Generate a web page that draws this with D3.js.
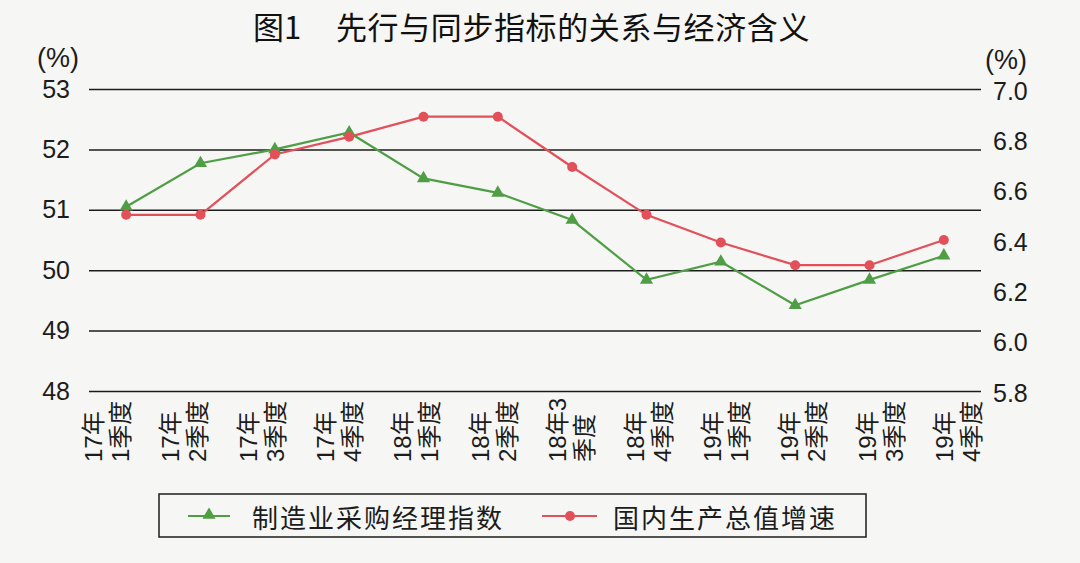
<!DOCTYPE html>
<html>
<head>
<meta charset="utf-8">
<script src="https://cdn.jsdelivr.net/npm/d3@7"></script>
<style>
  body { margin: 0; background: #f6f6f4; }
  svg { display: block; font-family: "Liberation Sans", "Noto Sans CJK SC", sans-serif; }
</style>
</head>
<body>
<div class="chart"></div>
<script>
// quarters on the x axis
const quarters = ["17Q1", "17Q2", "17Q3", "17Q4", "18Q1", "18Q2", "18Q3", "18Q4", "19Q1", "19Q2", "19Q3", "19Q4"];
const quarterLabels = [
  ["17年", "1季度"], ["17年", "2季度"], ["17年", "3季度"], ["17年", "4季度"],
  ["18年", "1季度"], ["18年", "2季度"], ["18年3", "季度"], ["18年", "4季度"],
  ["19年", "1季度"], ["19年", "2季度"], ["19年", "3季度"], ["19年", "4季度"]
];
// 制造业采购经理指数 (left axis)
const pmi = [51.05, 51.77, 52.0, 52.28, 51.52, 51.28, 50.83, 49.84, 50.14, 49.42, 49.84, 50.24];
// 国内生产总值增速 (right axis)
const gdp = [6.5, 6.5, 6.74, 6.81, 6.89, 6.89, 6.69, 6.5, 6.39, 6.3, 6.3, 6.4];
const leftTicks = [48, 49, 50, 51, 52, 53];
const rightTicks = [5.8, 6.0, 6.2, 6.4, 6.6, 6.8, 7.0];

const W = 1080, H = 563;
const margin = { top: 89, right: 99, bottom: 172, left: 89 };
const width = W - margin.left - margin.right;
const height = H - margin.top - margin.bottom;
const green = "#4f9e45", red = "#e2505a", ink = "#1c1c1c";

const svg = d3.select(".chart").append("svg")
  .attr("width", W).attr("height", H);

svg.append("text")
  .attr("x", 253).attr("y", 25)
  .attr("dominant-baseline", "central")
  .attr("font-family", "Noto Sans CJK SC")
  .attr("font-size", 31).attr("fill", "#111")
  .text("图1");
svg.append("text")
  .attr("x", 336).attr("y", 25)
  .attr("dominant-baseline", "central")
  .attr("font-family", "Noto Sans CJK SC")
  .attr("font-size", 31).attr("letter-spacing", 0.6).attr("fill", "#111")
  .text("先行与同步指标的关系与经济含义");

const g = svg.append("g")
  .attr("transform", "translate(" + margin.left + "," + margin.top + ")");

const x = d3.scalePoint().domain(quarters).range([0, width]).padding(0.5);
const xLab = d3.scalePoint().domain(quarters).range([18, width - 23]);
const yL = d3.scaleLinear().domain([48, 53]).range([height, 0]);
const yR = d3.scaleLinear().domain([5.8, 7.0]).range([height, 0]);

// left axis + gridlines
const axL = g.append("g")
  .call(d3.axisLeft(yL).tickValues(leftTicks).tickFormat(d3.format("d"))
    .tickSizeInner(-width).tickSizeOuter(0).tickPadding(19));
axL.select(".domain").remove();
axL.selectAll(".tick line").attr("stroke", ink).attr("stroke-width", 1.5);
axL.selectAll(".tick text").attr("font-size", 25).attr("fill", ink)
  .attr("font-family", "Liberation Sans");

// right axis
const axR = g.append("g")
  .attr("transform", "translate(" + width + ",0)")
  .call(d3.axisRight(yR).tickValues(rightTicks).tickFormat(d3.format(".1f")).tickSize(0).tickPadding(12));
axR.select(".domain").remove();
axR.selectAll(".tick text").attr("font-size", 25).attr("fill", ink)
  .attr("font-family", "Liberation Sans").attr("dy", "0.4em");

// unit labels
svg.append("text").attr("x", 58).attr("y", 58)
  .attr("text-anchor", "middle").attr("dominant-baseline", "central")
  .attr("font-size", 27).attr("fill", ink).text("(%)");
svg.append("text").attr("x", 1006).attr("y", 60)
  .attr("text-anchor", "middle").attr("dominant-baseline", "central")
  .attr("font-size", 27).attr("fill", ink).text("(%)");

// rotated quarter labels
const lab = g.selectAll(".qlab").data(quarters).enter().append("g")
  .attr("class", "qlab")
  .attr("transform", (d) => "translate(" + xLab(d) + "," + (height + 71) + ") rotate(-90)");
lab.each(function (d, i) {
  const lines = quarterLabels[i];
  d3.select(this).selectAll("text").data(lines).enter().append("text")
    .attr("x", 0)
    .attr("y", (t, j) => (j === 0 ? -13.5 : 13.5))
    .attr("dominant-baseline", "central")
    .attr("font-size", 24).attr("fill", ink)
    .text((t) => t);
});

// lines
const lineL = d3.line().x((d, i) => x(quarters[i])).y((d) => yL(d));
const lineR = d3.line().x((d, i) => x(quarters[i])).y((d) => yR(d));

g.append("path").datum(pmi)
  .attr("fill", "none").attr("stroke", green).attr("stroke-width", 2.2)
  .attr("d", lineL);
g.append("path").datum(gdp)
  .attr("fill", "none").attr("stroke", red).attr("stroke-width", 2.2)
  .attr("d", lineR);

const tri = d3.symbol().type(d3.symbolTriangle).size(75);
g.selectAll(".pmiPt").data(pmi).enter().append("path")
  .attr("class", "pmiPt")
  .attr("d", tri)
  .attr("fill", green)
  .attr("transform", (d, i) => "translate(" + x(quarters[i]) + "," + yL(d) + ")");

g.selectAll(".gdpPt").data(gdp).enter().append("circle")
  .attr("class", "gdpPt")
  .attr("cx", (d, i) => x(quarters[i]))
  .attr("cy", (d) => yR(d))
  .attr("r", 5)
  .attr("fill", red);

// legend
const leg = svg.append("g");
leg.append("rect")
  .attr("x", 159).attr("y", 494).attr("width", 707).attr("height", 43)
  .attr("fill", "none").attr("stroke", ink).attr("stroke-width", 1.5);
leg.append("line").attr("x1", 188).attr("x2", 230).attr("y1", 516).attr("y2", 516)
  .attr("stroke", green).attr("stroke-width", 2.2);
leg.append("path").attr("d", tri).attr("fill", green)
  .attr("transform", "translate(209,515)");
leg.append("text").attr("x", 252).attr("y", 516)
  .attr("dominant-baseline", "central").attr("font-size", 26)
  .attr("letter-spacing", 2).attr("fill", ink)
  .attr("font-family", "Noto Sans CJK SC")
  .text("制造业采购经理指数");
leg.append("line").attr("x1", 542).attr("x2", 597).attr("y1", 516).attr("y2", 516)
  .attr("stroke", red).attr("stroke-width", 2.2);
leg.append("circle").attr("cx", 570).attr("cy", 516).attr("r", 5).attr("fill", red);
leg.append("text").attr("x", 613).attr("y", 516)
  .attr("dominant-baseline", "central").attr("font-size", 26)
  .attr("letter-spacing", 2).attr("fill", ink)
  .attr("font-family", "Noto Sans CJK SC")
  .text("国内生产总值增速");
</script>
</body>
</html>
